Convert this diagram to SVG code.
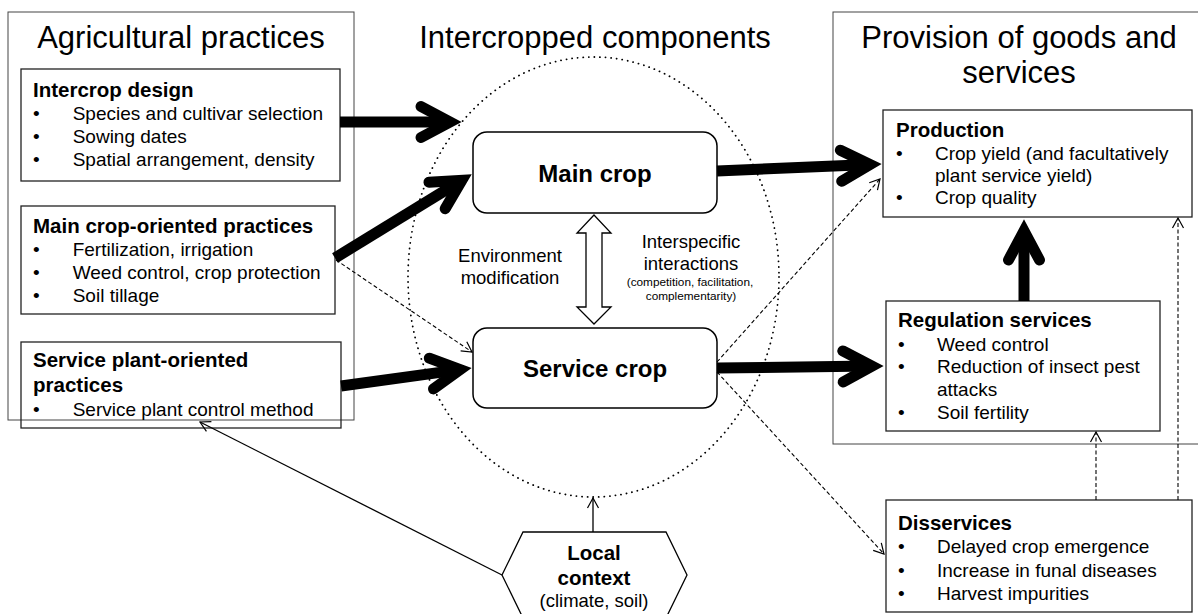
<svg xmlns="http://www.w3.org/2000/svg" width="1198" height="614" viewBox="0 0 1198 614">
<style>
text{font-family:"Liberation Sans",Arial,Helvetica,sans-serif;fill:#000}
.title{font-size:31px}
.h{font-size:20.5px;font-weight:bold}
.b{font-size:19px}
.mid{font-size:18.5px}
.sm{font-size:11.8px}
.outer{fill:none;stroke:#444;stroke-width:1}
.box{fill:#fff;stroke:#222;stroke-width:1.3}
.rbox{fill:#fff;stroke:#000;stroke-width:1.5}
.thick{fill:none;stroke:#000;stroke-width:11;marker-end:url(#chev)}
.dash{fill:none;stroke:#000;stroke-width:1.1;stroke-dasharray:4 2.5;marker-end:url(#open)}
.thin{fill:none;stroke:#000;stroke-width:1.3;marker-end:url(#open)}
</style>
<defs>
<marker id="chev" markerUnits="userSpaceOnUse" orient="auto" markerWidth="10" markerHeight="10" refX="0" refY="0" overflow="visible">
<path d="M -29,-15.5 L 0,0 L -29,15.5" fill="none" stroke="#000" stroke-width="11" stroke-linecap="round" stroke-linejoin="miter" stroke-miterlimit="10"/>
</marker>
<marker id="open" markerUnits="userSpaceOnUse" orient="auto" markerWidth="10" markerHeight="10" refX="0" refY="0" overflow="visible">
<path d="M -10,-5.5 L 0,0 L -10,5.5" fill="none" stroke="#000" stroke-width="1.2"/>
</marker>
</defs>
<rect width="1198" height="614" fill="#fff"/>

<g id="ellipse">
<ellipse cx="593.5" cy="277" rx="185.5" ry="220" fill="none" stroke="#000" stroke-width="1.8" stroke-dasharray="0.1 5.5" stroke-linecap="round"/>
</g>

<g id="agricultural-practices">
<rect class="outer" x="8" y="12" width="346" height="408"/>
<text class="title" x="181" y="48" text-anchor="middle">Agricultural practices</text>
</g>

<g id="intercrop-design">
<rect class="box" x="21" y="69" width="319" height="112"/>
<text class="h" x="33" y="97">Intercrop design</text>
<text class="b" x="33" y="120">•</text><text class="b" x="72.7" y="120">Species and cultivar selection</text>
<text class="b" x="33" y="143">•</text><text class="b" x="72.7" y="143">Sowing dates</text>
<text class="b" x="33" y="165.5">•</text><text class="b" x="72.7" y="165.5">Spatial arrangement, density</text>
</g>

<g id="main-crop-practices">
<rect class="box" x="21" y="206" width="314" height="108"/>
<text class="h" x="33" y="233">Main crop-oriented practices</text>
<text class="b" x="33" y="256">•</text><text class="b" x="72.7" y="256">Fertilization, irrigation</text>
<text class="b" x="33" y="279">•</text><text class="b" x="72.7" y="279">Weed control, crop protection</text>
<text class="b" x="33" y="302">•</text><text class="b" x="72.7" y="302">Soil tillage</text>
</g>

<g id="service-plant-practices">
<rect class="box" x="21" y="342" width="320" height="86" fill-opacity="0"/>
<text class="h" x="33" y="367">Service plant-oriented</text>
<text class="h" x="33" y="392">practices</text>
<text class="b" x="33" y="416">•</text><text class="b" x="72.7" y="416">Service plant control method</text>
</g>

<g id="intercropped-title">
<text class="title" x="595" y="48" text-anchor="middle">Intercropped components</text>
</g>

<g id="main-crop">
<rect class="rbox" x="473" y="132" width="244" height="81" rx="14"/>
<text x="595" y="182" text-anchor="middle" style="font-size:24px;font-weight:bold">Main crop</text>
</g>

<g id="service-crop">
<rect class="rbox" x="473" y="328" width="244" height="80" rx="14"/>
<text x="595" y="377" text-anchor="middle" style="font-size:24px;font-weight:bold">Service crop</text>
</g>

<g id="interactions">
<polygon points="594,215 611,233 602,233 602,307 611,307 594,324 577,307 586,307 586,233 577,233" fill="#fff" stroke="#000" stroke-width="1.3"/>
<text class="mid" x="510" y="262" text-anchor="middle">Environment</text>
<text class="mid" x="510" y="284" text-anchor="middle">modification</text>
<text class="mid" x="691" y="248" text-anchor="middle">Interspecific</text>
<text class="mid" x="691" y="270" text-anchor="middle">interactions</text>
<text class="sm" x="690" y="286" text-anchor="middle">(competition, facilitation,</text>
<text class="sm" x="691" y="300" text-anchor="middle">complementarity)</text>
</g>

<g id="provision">
<rect class="outer" x="833" y="12" width="370" height="432"/>
<text class="title" x="1019" y="48" text-anchor="middle">Provision of goods and</text>
<text class="title" x="1019" y="83" text-anchor="middle">services</text>
</g>

<g id="production">
<rect class="box" x="883" y="110" width="309" height="107"/>
<text class="h" x="896" y="137">Production</text>
<text class="b" x="896" y="160">•</text><text class="b" x="935" y="160">Crop yield (and facultatively</text>
<text class="b" x="935" y="182">plant service yield)</text>
<text class="b" x="896" y="204">•</text><text class="b" x="935" y="204">Crop quality</text>
</g>

<g id="regulation">
<rect class="box" x="886" y="301" width="274" height="130"/>
<text class="h" x="898" y="327">Regulation services</text>
<text class="b" x="898" y="351">•</text><text class="b" x="937" y="351">Weed control</text>
<text class="b" x="898" y="373">•</text><text class="b" x="937" y="373">Reduction of insect pest</text>
<text class="b" x="937" y="396">attacks</text>
<text class="b" x="898" y="419">•</text><text class="b" x="937" y="419">Soil fertility</text>
</g>

<g id="disservices">
<rect class="box" x="886" y="500" width="306" height="112"/>
<text class="h" x="898" y="530">Disservices</text>
<text class="b" x="898" y="553">•</text><text class="b" x="937" y="553">Delayed crop emergence</text>
<text class="b" x="898" y="577">•</text><text class="b" x="937" y="577">Increase in funal diseases</text>
<text class="b" x="898" y="600">•</text><text class="b" x="937" y="600">Harvest impurities</text>
</g>

<g id="local-context">
<polygon points="523,532 666,532 687,575 666,618 523,618 502,575" fill="#fff" stroke="#000" stroke-width="1.3"/>
<text class="h" x="594" y="560" text-anchor="middle">Local</text>
<text class="h" x="594" y="585" text-anchor="middle">context</text>
<text class="mid" x="594" y="607" text-anchor="middle">(climate, soil)</text>
</g>

<g id="connectors">
<path class="thick" d="M 340,122 L 450,122"/>
<path class="thick" d="M 335,258 L 461.8,180.3"/>
<path class="thick" d="M 341,386 L 460.1,369.6"/>
<path class="thick" d="M 717,171 L 870,164.5"/>
<path class="thick" d="M 717,368 L 872,366.1"/>
<path class="thick" d="M 1024,301 L 1024,231"/>
<path class="dash" d="M 336,260 L 472,352"/>
<path class="dash" d="M 717,362 L 880,179"/>
<path class="dash" d="M 717,372 L 884,554"/>
<path class="dash" d="M 1096,500 L 1096,432"/>
<path class="dash" d="M 1178,500 L 1178,218"/>
<path class="thin" d="M 502,575 L 200,422"/>
<path class="thin" d="M 593,532 L 593,498"/>
</g>
</svg>
